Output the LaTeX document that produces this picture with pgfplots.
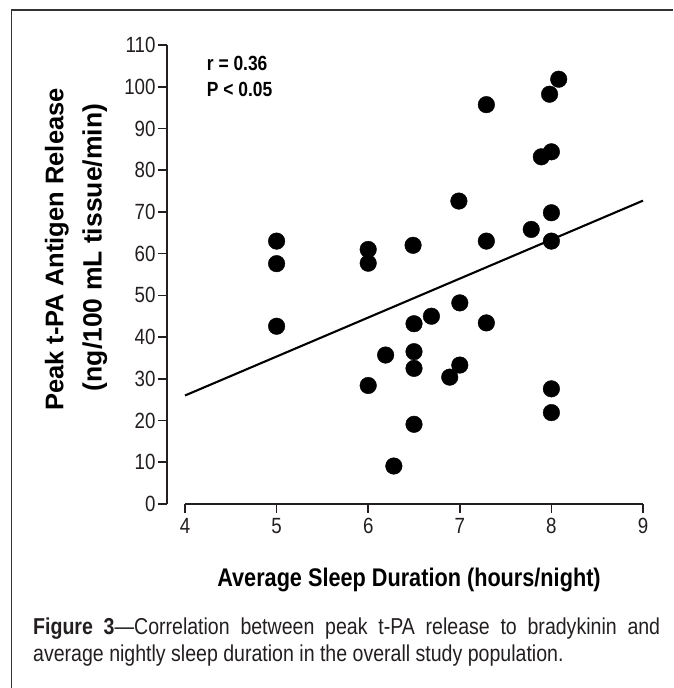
\documentclass[border=0pt]{standalone}
\usepackage{fontspec}
\setmainfont{Liberation Sans}[FakeStretch=0.85]
\newfontfamily\widesans{Liberation Sans}
\usepackage{pgfplots}
\pgfplotsset{compat=1.18}
\definecolor{ink}{HTML}{231F20}
\newcommand\tickfont{\fontsize{22}{24}\selectfont}
\begin{document}
\begin{tikzpicture}
\useasboundingbox (0,0) rectangle (673pt,688pt);
\fill[white] (0,0) rectangle (673pt,688pt);
% frame
\draw[line width=1.7pt, black!80] (11.5pt,0) -- (11.5pt,678pt) -- (673pt,678pt);
\begin{axis}[
  at={(167pt,184pt)}, anchor=south west,
  scale only axis, width=476pt, height=459pt,
  xmin=3.8035, xmax=9, ymin=0, ymax=110,
  axis line style={draw=none},
  tick align=outside, major tick length=9pt,
  xtick={4,5,6,7,8,9}, ytick={0,10,...,110},
  xtick pos=left, ytick pos=left,
  tick style={line width=1.6pt, ink},
  xticklabel={\tickfont\pgfmathprintnumber{\tick}},
  yticklabel={\tickfont\pgfmathprintnumber{\tick}},
  tick label style={text=ink},
  xticklabel style={yshift=-2pt},
  yticklabel style={xshift=1pt},
  /pgf/number format/assume math mode=true,
  clip=false,
]
\draw[line width=1.8pt, ink] (axis cs:4,0) -- (axis cs:9,0);
\draw[line width=1.8pt, ink] (rel axis cs:0,0) -- (rel axis cs:0,1);
\addplot[only marks, mark=*, mark size=8.3pt, mark options={fill=black, draw=black}] coordinates {
(5,63) (5,57.6) (5,42.6)
(6,61) (6,57.7) (6,28.4)
(6.19,35.7) (6.28,9.1)
(6.49,62) (6.5,43.2) (6.5,36.5) (6.5,32.5) (6.5,19.1)
(6.69,45) (6.89,30.4)
(6.99,72.6) (7,48.2) (7,33.3)
(7.29,95.7) (7.29,63) (7.29,43.4)
(7.78,65.8) (7.89,83.2)
(7.98,98.2) (8,84.4) (8,69.8) (8,63) (8,27.6) (8,21.9)
(8.08,101.8)
};
\addplot[line width=2.1pt, black] coordinates {(4,26) (9,72.7)};
\end{axis}
% annotations
\node[anchor=base west, inner sep=0, text=black, font=\fontsize{20.5}{24}\selectfont\bfseries] at (206.7pt,617.3pt) {r = 0.36};
\node[anchor=base west, inner sep=0, text=black, font=\fontsize{20.5}{24}\selectfont\bfseries] at (206.7pt,591.3pt) {P < 0.05};
% y label
\node[rotate=90, anchor=base, inner sep=0, text=black, font=\widesans\fontsize{25.5}{30}\selectfont\bfseries] at (63.3pt,438.5pt) {Peak t-PA Antigen Release};
\node[rotate=90, anchor=base, inner sep=0, text=black, font=\widesans\fontsize{26.5}{30}\selectfont\bfseries] at (101.7pt,440.5pt) {(ng/100 mL tissue/min)};
% x label
\node[anchor=base, inner sep=0, text=black, font=\fontsize{25.5}{30}\selectfont\bfseries] at (409pt,101.3pt) {Average Sleep Duration (hours/night)};
% caption
\node[anchor=base west, inner sep=0, text=ink, font=\fontsize{23}{28}\selectfont] at (33pt,53pt) {\makebox[627pt][s]{\textbf{Figure 3}---Correlation between peak t-PA release to bradykinin and}};
\node[anchor=base west, inner sep=0, text=ink, font=\fontsize{23}{28}\selectfont] at (33pt,26pt) {average nightly sleep duration in the overall study population.};
\end{tikzpicture}
\end{document}
